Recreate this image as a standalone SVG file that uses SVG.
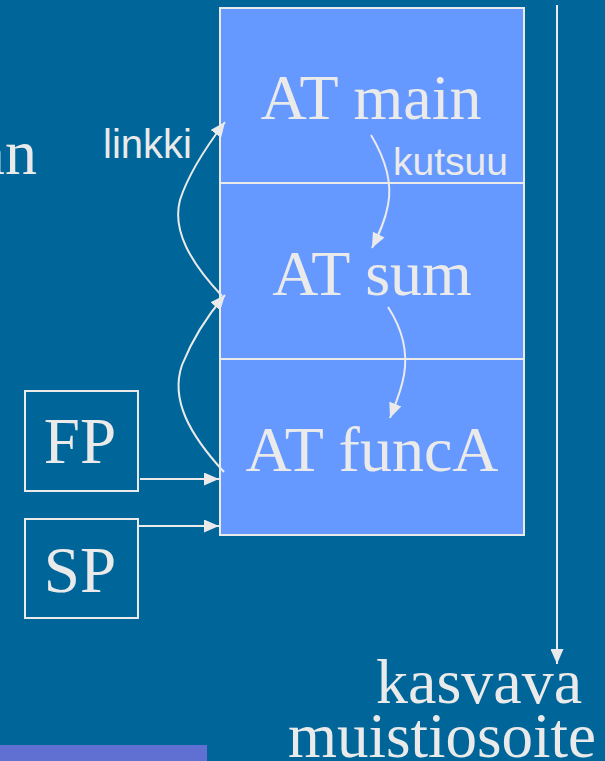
<svg xmlns="http://www.w3.org/2000/svg" width="605" height="761" viewBox="0 0 605 761">
<defs>
<style>
.serif{font-family:"Liberation Serif","Times New Roman",serif;fill:#EAEAEA;}
.sans{font-family:"Liberation Sans",Arial,sans-serif;fill:#EAEAEA;}
.ln{fill:none;stroke:#EAEAEA;stroke-width:2;}
.box{fill:none;stroke:#EAEAEA;stroke-width:2;}
</style>
<marker id="ah" viewBox="0 0 15 13" refX="15" refY="6.5" markerWidth="15" markerHeight="13" markerUnits="userSpaceOnUse" orient="auto">
<path d="M0,0 L15,6.5 L0,13 Z" fill="#EAEAEA"/>
</marker>
</defs>
<rect x="0" y="0" width="605" height="761" fill="#006699"/>
<rect x="0" y="745" width="207" height="16" fill="#6070D2"/>
<text class="serif" x="37" y="174" font-size="64" text-anchor="end">an</text>
<g id="stack">
<rect x="220" y="8" width="304" height="527" fill="#6699FF" stroke="#EAEAEA" stroke-width="2"/>
<line class="ln" x1="220" y1="183" x2="524" y2="183"/>
<line class="ln" x1="220" y1="359" x2="524" y2="359"/>
</g>
<g id="at-main"><text class="serif" x="371" y="119" font-size="64" text-anchor="middle">AT main</text></g>
<g id="at-sum"><text class="serif" x="372" y="295" font-size="64" text-anchor="middle">AT sum</text></g>
<g id="at-funca"><text class="serif" x="372" y="471" font-size="64" text-anchor="middle">AT funcA</text></g>
<g id="fp"><rect class="box" x="25" y="391" width="113" height="100"/><text class="serif" x="80" y="463" font-size="65" text-anchor="middle">FP</text></g>
<g id="sp"><rect class="box" x="25" y="519" width="113" height="99"/><text class="serif" x="80" y="592" font-size="65" text-anchor="middle">SP</text></g>
<g id="address"><text class="serif" x="376" y="703" font-size="64">kasvava</text><text class="serif" x="288" y="757" font-size="63">muistiosoite</text></g>
<text class="sans" x="103" y="158" font-size="40">linkki</text>
<text class="sans" x="393" y="175" font-size="39">kutsuu</text>
<g id="connectors">
<line class="ln" x1="140" y1="479" x2="219" y2="479" marker-end="url(#ah)"/>
<line class="ln" x1="138" y1="526" x2="219" y2="526" marker-end="url(#ah)"/>
<line class="ln" x1="557" y1="5" x2="557" y2="664" marker-end="url(#ah)"/>
<path class="ln" d="M224,472 C190,435 170,400 182,365 C192,340 208,315 225,295" marker-end="url(#ah)"/>
<path class="ln" d="M222,296 C190,262 172,230 180,200 C188,175 206,147 225,122" marker-end="url(#ah)"/>
<path class="ln" d="M371,135 C386,160 392,185 388,205 C385,222 378,236 372,248" marker-end="url(#ah)"/>
<path class="ln" d="M388,307 C403,330 408,352 404,375 C401,392 395,405 390,418" marker-end="url(#ah)"/>
</g>
</svg>
